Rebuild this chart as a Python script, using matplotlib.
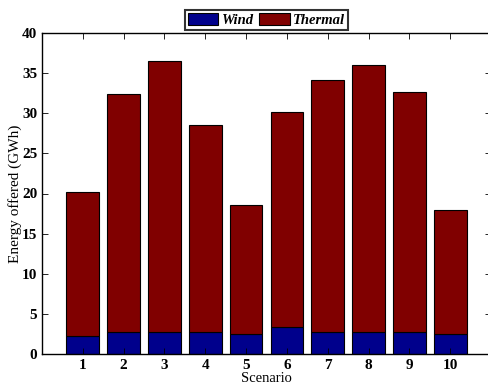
import numpy as np
import matplotlib
matplotlib.use("Agg")
import matplotlib.pyplot as pl

scenarios = [1, 2, 3, 4, 5, 6, 7, 8, 9, 10]
total = [20.2, 32.4, 36.45, 28.5, 18.6, 30.2, 34.1, 36.0, 32.7, 17.95]
wind = [2.2, 2.7, 2.7, 2.7, 2.5, 3.4, 2.7, 2.7, 2.7, 2.45]
thermal = [t - w for t, w in zip(total, wind)]

pl.rcParams['font.family'] = 'Liberation Serif'

fig = pl.figure(figsize=(4.89, 3.88), dpi=100)
ax = fig.add_axes([42/489., 34/388., 449/489., 321/388.])

ax.bar(scenarios, wind, width=0.8, color='#00008C', edgecolor='black', lw=0.8, label='Wind')
ax.bar(scenarios, thermal, width=0.8, bottom=wind, color='#800000', edgecolor='black', lw=0.8, label='Thermal')

ax.set_xlim(0, 11)
ax.set_ylim(0, 40)
ax.set_xticks(scenarios)
ax.set_yticks(np.arange(0, 41, 5))
ax.tick_params(direction='in', top=True, right=True, length=4, width=0.6, labelsize=11)
for tl in ax.get_xticklabels() + ax.get_yticklabels():
	tl.set_fontweight('bold')
ax.set_xlabel('Scenario', fontsize=10.5, labelpad=0)
ax.set_ylabel('Energy offered (GWh)', fontsize=11)
ax.yaxis.set_label_coords(-0.045, 0.5)
for s in ax.spines.values():
	s.set_linewidth(1.0)

leg = ax.legend(loc='lower center', bbox_to_anchor=(0.5, 1.005), ncol=2, frameon=True, fancybox=False,
	prop={'style': 'italic', 'weight': 'bold', 'size': 10.5}, handlelength=2.1, handleheight=0.8,
	columnspacing=0.35, handletextpad=0.25, borderpad=0.2, borderaxespad=0.1)
leg.get_frame().set_edgecolor('black')
leg.get_frame().set_linewidth(1.5)

pl.savefig('out.png', dpi=100)
pl.close()
